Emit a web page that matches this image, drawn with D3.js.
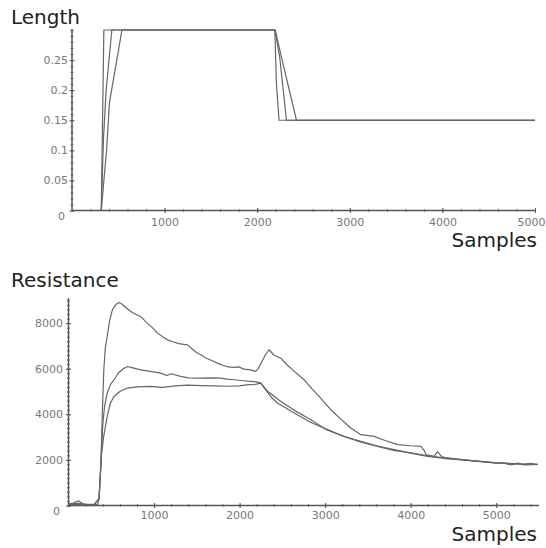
<!DOCTYPE html>
<html>
<head>
<meta charset="utf-8">
<script src="https://cdn.jsdelivr.net/npm/d3@7"></script>
<style>
  html, body { margin: 0; padding: 0; background: #fff; }
  svg { display: block; }
  .title { font-family: "DejaVu Sans", sans-serif; font-size: 20px; fill: #222; }
  .tick text { font-family: "DejaVu Sans", sans-serif; fill: #777; }
  .curve { fill: none; stroke: #666; stroke-width: 1.2; stroke-linejoin: round; }
</style>
</head>
<body>
<div id="chart"></div>
<script>
// sample index vs length, three runs
const lengthA = [[0, 0], [316, 0], [344, 0.3], [2190, 0.3], [2208, 0.21], [2236, 0.15], [5000, 0.15]];
const lengthB = [[0, 0], [316, 0], [340, 0.12], [369, 0.2], [430, 0.3], [2190, 0.3], [2243, 0.255], [2316, 0.15], [5000, 0.15]];
const lengthC = [[0, 0], [316, 0], [373, 0.1], [405, 0.18], [495, 0.26], [539, 0.3], [2195, 0.3], [2262, 0.255], [2424, 0.15], [5000, 0.15]];

// sample index vs resistance, three runs
const resistA = [
  [0, 60], [60, 120], [120, 200], [160, 90], [200, 40], [260, 20], [300, 30], [340, 40],
  [357, 300], [377, 1600], [395, 4000], [413, 5950], [430, 6900], [452, 7400], [480, 8100],
  [513, 8580], [550, 8800], [590, 8900], [620, 8850], [680, 8650], [750, 8450], [845, 8280],
  [920, 8000], [980, 7800], [1040, 7560], [1100, 7400], [1157, 7265], [1220, 7180], [1290, 7100],
  [1390, 7045], [1450, 6850], [1500, 6700], [1546, 6610], [1600, 6480], [1680, 6350], [1741, 6245],
  [1800, 6150], [1870, 6080], [1936, 6055], [1990, 6080], [2050, 5980], [2131, 5950], [2180, 5880],
  [2209, 5950], [2260, 6300], [2300, 6600], [2345, 6830], [2400, 6600], [2482, 6460], [2560, 6150],
  [2650, 5850], [2754, 5514], [2850, 5100], [2950, 4700], [3066, 4200], [3180, 3800], [3300, 3400],
  [3417, 3107], [3573, 3033], [3700, 2850], [3847, 2670], [4000, 2620], [4120, 2595], [4160, 2400],
  [4178, 2232], [4275, 2157], [4314, 2360], [4360, 2150], [4400, 2100], [4587, 2013], [4750, 1950],
  [4977, 1868], [5100, 1850], [5180, 1780], [5250, 1860], [5320, 1790], [5400, 1850], [5484, 1795]
];
const resistB = [
  [0, 40], [100, 90], [200, 60], [300, 20], [357, 300], [380, 2000], [400, 3500], [420, 4300],
  [450, 4900], [490, 5300], [532, 5514], [580, 5800], [640, 6000], [689, 6095], [740, 6050],
  [845, 5950], [960, 5880], [1078, 5805], [1150, 5700], [1200, 5780], [1312, 5660], [1400, 5600],
  [1546, 5587], [1650, 5600], [1780, 5587], [1850, 5540], [1936, 5514], [2050, 5470], [2131, 5440],
  [2200, 5420], [2248, 5368], [2330, 5000], [2400, 4800], [2482, 4565], [2650, 4150], [2833, 3763],
  [3000, 3350], [3222, 3033], [3400, 2800], [3612, 2595], [3800, 2420], [4002, 2305], [4200, 2180],
  [4392, 2085], [4550, 2030], [4750, 1960], [4977, 1880], [5200, 1830], [5350, 1780], [5484, 1800]
];
const resistC = [
  [0, 80], [80, 50], [180, 30], [300, 60], [357, 300], [385, 2200], [410, 3000], [452, 3908],
  [490, 4500], [532, 4783], [600, 5000], [689, 5150], [800, 5200], [962, 5220], [1100, 5180],
  [1250, 5250], [1400, 5280], [1550, 5260], [1700, 5250], [1850, 5230], [2000, 5250], [2100, 5300],
  [2167, 5295], [2248, 5370], [2300, 5100], [2370, 4750], [2443, 4493], [2638, 4056], [2828, 3650],
  [3028, 3326], [3200, 3050], [3417, 2814], [3600, 2620], [3807, 2450], [4000, 2300], [4197, 2157],
  [4400, 2060], [4600, 2000], [4800, 1940], [5000, 1870], [5200, 1840], [5484, 1800]
];

const lengthTicksX = [1000, 2000, 3000, 4000, 5000];
const lengthTicksY = [0, 0.05, 0.1, 0.15, 0.2, 0.25];
const resistTicksX = [1000, 2000, 3000, 4000, 5000];
const resistTicksY = [0, 2000, 4000, 6000, 8000];

const width = 546;
const height = 548;

const svg = d3
  .select("#chart")
  .append("svg")
  .attr("width", width)
  .attr("height", height);

drawPanel({
  series: [lengthA, lengthB, lengthC],
  x: d3.scaleLinear().domain([0, 5000]).range([72, 535]),
  y: d3.scaleLinear().domain([0, 0.3]).range([210.5, 30]),
  yTop: 29,
  ticksX: lengthTicksX,
  ticksY: lengthTicksY,
  minorX: d3.range(0, 5001, 200),
  minorY: d3.range(0, 0.3001, 0.01),
  yFormat: (d) => (d === 0 ? "0" : String(+d.toFixed(2))),
  fontSize: 11,
  labelDy: 11.5,
  labelGap: 4,
  title: "Length",
  titleY: 24,
  samplesY: 247
});

drawPanel({
  series: [resistA, resistB, resistC],
  x: d3.scaleLinear().domain([0, 5500]).range([68.5, 539]),
  y: d3.scaleLinear().domain([0, 9100]).range([505.5, 298]),
  yTop: 298,
  ticksX: resistTicksX,
  ticksY: resistTicksY,
  minorX: d3.range(0, 5501, 200),
  minorY: d3.range(0, 9101, 200),
  yFormat: (d) => String(d),
  fontSize: 11,
  labelDy: 9.5,
  labelGap: 5.5,
  title: "Resistance",
  titleY: 287,
  samplesY: 541
});

function drawPanel(p) {
  const g = svg.append("g");
  const x0 = p.x.range()[0];
  const y0 = p.y(0);

  const line = d3
    .line()
    .x((d) => p.x(d[0]))
    .y((d) => p.y(d[1]));

  g.append("g")
    .selectAll("path")
    .data(p.series)
    .join("path")
    .attr("class", "curve")
    .attr("d", line);

  // axis lines
  g.append("line")
    .attr("x1", x0).attr("x2", p.x.range()[1])
    .attr("y1", y0).attr("y2", y0)
    .attr("stroke", "#555").attr("stroke-width", 1.5);
  g.append("line")
    .attr("x1", x0).attr("x2", x0)
    .attr("y1", y0).attr("y2", p.yTop)
    .attr("stroke", "#555").attr("stroke-width", 1.5);

  // minor ticks, crossing the axis
  const minorXAxis = g
    .append("g")
    .attr("transform", `translate(0,${y0})`)
    .call(d3.axisBottom(p.x).tickValues(p.minorX).tickFormat("").tickSizeOuter(0));
  minorXAxis.select(".domain").remove();
  minorXAxis.selectAll(".tick line").attr("y1", -1.5).attr("y2", 1.5).attr("stroke", "#666");

  const minorYAxis = g
    .append("g")
    .attr("transform", `translate(${x0},0)`)
    .call(d3.axisLeft(p.y).tickValues(p.minorY).tickFormat("").tickSizeOuter(0));
  minorYAxis.select(".domain").remove();
  minorYAxis.selectAll(".tick line").attr("x1", -1.5).attr("x2", 1.5).attr("stroke", "#666");

  // major ticks with labels
  const xAxis = g
    .append("g")
    .attr("transform", `translate(0,${y0})`)
    .call(d3.axisBottom(p.x).tickValues(p.ticksX).tickFormat(d3.format("d")).tickSizeOuter(0));
  xAxis.select(".domain").remove();
  xAxis.selectAll(".tick line").attr("y1", -2.5).attr("y2", 2.5).attr("stroke", "#555");
  xAxis
    .selectAll(".tick text")
    .attr("y", p.labelDy)
    .attr("dy", "0.35em")
    .attr("font-size", p.fontSize)
    .attr("text-anchor", (d, i, nodes) => (i === nodes.length - 1 && p.x(d) + 15 > width ? "end" : "middle"))
    .attr("x", (d, i, nodes) => (i === nodes.length - 1 && p.x(d) + 15 > width ? width - p.x(d) - 1 : 0));

  const yAxis = g
    .append("g")
    .attr("transform", `translate(${x0},0)`)
    .call(d3.axisLeft(p.y).tickValues(p.ticksY).tickFormat(p.yFormat).tickSizeOuter(0));
  yAxis.select(".domain").remove();
  yAxis.selectAll(".tick line").attr("x1", -2.5).attr("x2", 2.5).attr("stroke", "#555");
  yAxis
    .selectAll(".tick text")
    .attr("x", (d) => (d === 0 ? -p.labelGap - 3 : -p.labelGap))
    .attr("y", (d) => (d === 0 ? 5 : 0))
    .attr("font-size", p.fontSize);

  g.append("text")
    .attr("class", "title")
    .attr("x", 11)
    .attr("y", p.titleY)
    .text(p.title);

  g.append("text")
    .attr("class", "title")
    .attr("x", 537)
    .attr("y", p.samplesY)
    .attr("text-anchor", "end")
    .text("Samples");
}
</script>
</body>
</html>
